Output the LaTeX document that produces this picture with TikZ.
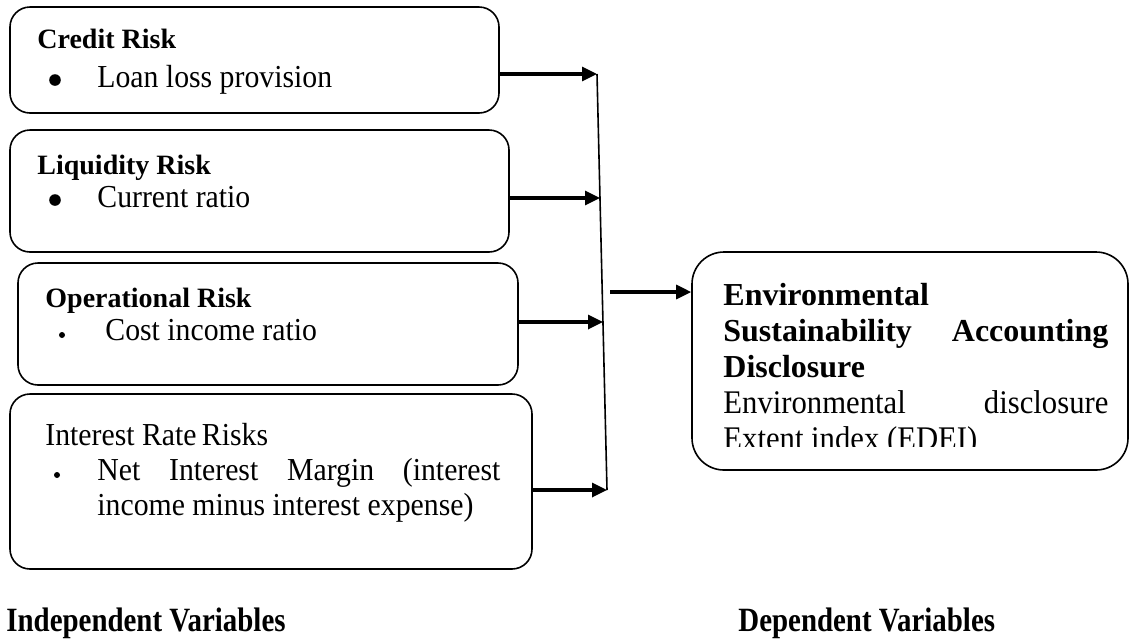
\documentclass[tikz,border=0pt]{standalone}
\usepackage{fontspec}
\setmainfont{Liberation Serif}
\newfontfamily\bodyfont[FakeStretch=0.93]{Liberation Serif}
\newfontfamily\condfont[FakeStretch=0.85]{Liberation Serif}
\newcommand\nohyph{\hyphenpenalty=10000\relax\tolerance=10000\relax}
\usetikzlibrary{positioning, arrows.meta, calc}
\tikzset{
    riskbox/.style={
        draw=black, line width=0.8pt, rounded corners=10pt,
        inner sep=0pt,
    },
    depbox/.style={
        draw=black, line width=0.8pt, rounded corners=16pt,
        inner sep=0pt, minimum width=218pt, minimum height=109pt,
    },
    headtxt/.style={
        anchor=base west, inner sep=0pt,
        font=\fontsize{14}{16}\selectfont\bfseries,
    },
    itemtxt/.style={
        anchor=base west, inner sep=0pt,
        font=\bodyfont\fontsize{16}{17.5}\selectfont,
    },
    % justified paragraphs, lines broken as in the source
    paratxt/.style={
        anchor=base west, inner sep=0pt, align=justify,
        font=\bodyfont\fontsize{16}{17.5}\selectfont,
        execute at begin node=\nohyph,
    },
    bigdot/.style={
        circle, fill=black, inner sep=0pt, minimum size=5.8pt,
    },
    smalldot/.style={
        circle, fill=black, inner sep=0pt, minimum size=3pt,
    },
    feed/.style={
        -{Triangle[length=7.5pt,width=7pt]}, line width=1.6pt,
    },
    spine/.style={
        line width=0.8pt,
    },
    varlabel/.style={
        anchor=base west, inner sep=0pt,
        font=\condfont\fontsize{17}{19}\selectfont\bfseries,
    },
}

\begin{document}
\begin{tikzpicture}[x=0.5pt, y=-0.5pt]
\useasboundingbox (0,0) rectangle (1129,639);

% ============================================================
%   Independent variables (left column)
% ============================================================
\node[riskbox, minimum width=244.5pt, minimum height=53pt] (cr) at (254.5,60) {};
\node[headtxt] (crH) at (37,48) {Credit Risk};
\node[bigdot]  (crD) at (55,80) {};
\node[itemtxt] (crI) at (97,87) {Loan loss provision};

\node[riskbox, minimum width=249.5pt, minimum height=61pt] (lq) at (259.5,191) {};
\node[headtxt] (lqH) at (37,174) {Liquidity Risk};
\node[bigdot]  (lqD) at (55,200) {};
\node[itemtxt] (lqI) at (97,207) {Current ratio};

\node[riskbox, minimum width=250pt, minimum height=61pt] (op) at (268,324) {};
\node[headtxt]  (opH) at (45,307) {Operational Risk};
\node[smalldot] (opD) at (62,335) {};
\node[itemtxt]  (opI) at (105,340) {Cost income ratio};

\node[riskbox, minimum width=261pt, minimum height=87.5pt] (ir) at (271,481.5) {};
\node[itemtxt]  (irH) at (45,445) {Interest Rate\,Risks};
\node[smalldot] (irD) at (57,475) {};
\node[paratxt, text width=201.5pt] (irI) at (97,480)
    {Net Interest Margin (interest\linebreak
     income minus interest expense)};

% ============================================================
%   Dependent variable (right box, last line cut off)
% ============================================================
\node[depbox] (es) at (910,361) {};
\begin{scope}
    \clip (692,252) rectangle (1128,446);
    \node[paratxt, text width=192.5pt,
          font=\fontsize{16}{18}\selectfont]
        (esT) at (723,305)
        {\textbf{Environmental\linebreak
                 Sustainability Accounting\linebreak
                 Disclosure}\par
         {\bodyfont\fontsize{16.5}{18}\selectfont
          Environmental disclosure\linebreak
          Extent index (EDEI)\par}};
\end{scope}

% ============================================================
%   Connectors
% ============================================================
\coordinate (j1) at (597,74);
\coordinate (j2) at (600,198);
\coordinate (j3) at (603,322);
\coordinate (j4) at (607,490);
\draw[spine] (j1) -- (j4);

\draw[feed] (cr.east |- j1) -- (j1);
\draw[feed] (lq.east |- j2) -- (j2);
\draw[feed] (op.east |- j3) -- (j3);
\draw[feed] (ir.east |- j4) -- (j4);

\coordinate (m) at (610,292);
\draw[feed] (m) -- (m -| es.west);

% ============================================================
%   Column labels
% ============================================================
\node[varlabel] (indep) at (6,631) {Independent Variables};
\node[varlabel] (dep)   at (738,631) {Dependent Variables};

\end{tikzpicture}
\end{document}
